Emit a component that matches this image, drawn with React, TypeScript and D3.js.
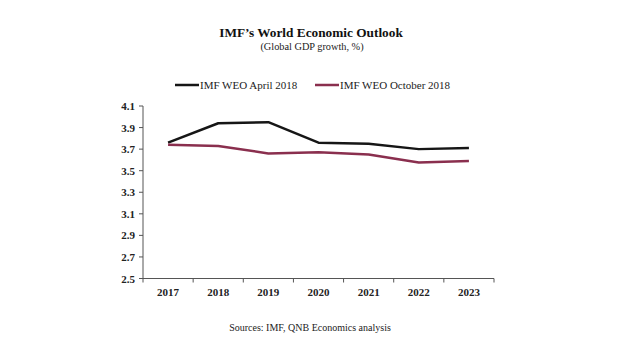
import React from "react";
import * as d3 from "d3";

const years = ["2017", "2018", "2019", "2020", "2021", "2022", "2023"];
const april2018 = [3.76, 3.94, 3.95, 3.76, 3.75, 3.70, 3.71];
const october2018 = [3.74, 3.73, 3.66, 3.67, 3.65, 3.575, 3.59];
const yTicks = [2.5, 2.7, 2.9, 3.1, 3.3, 3.5, 3.7, 3.9, 4.1];
const seriesNames = ["IMF WEO April 2018", "IMF WEO October 2018"];
const colors = ["#161616", "#8a2f4e"];

export default function App() {
  const W = 620, H = 355;
  const left = 143, right = 494, top = 106, bottom = 278.5;
  const x = d3.scaleBand().domain(years).range([left, right]);
  const y = d3.scaleLinear().domain([2.5, 4.1]).range([bottom, top]);
  const line = d3
    .line<number>()
    .x((_, i) => (x(years[i]) as number) + x.bandwidth() / 2)
    .y((d) => y(d));
  const font = "'Liberation Serif', 'Times New Roman', serif";
  const series = [april2018, october2018];
  const legendX = [175, 315];
  const xTickPos = years.map((yr) => x(yr) as number).concat([right]);
  return (
    <svg width={W} height={H} style={{ position: "absolute", left: 0, top: 0, background: "#fff" }} fontFamily={font}>
      <text x={311} y={37} textAnchor="middle" fontSize={13.3} fontWeight="bold" fill="#111">
        IMF’s World Economic Outlook
      </text>
      <text x={312} y={50} textAnchor="middle" fontSize={10.3} fill="#222">
        (Global GDP growth, %)
      </text>
      {seriesNames.map((n, i) => (
        <g key={n}>
          <line x1={legendX[i]} x2={legendX[i] + 24} y1={85} y2={85} stroke={colors[i]} strokeWidth={2.5} />
          <text x={legendX[i] + 25} y={89} fontSize={11} fill="#222">
            {n}
          </text>
        </g>
      ))}
      {/* axes */}
      <line x1={left} x2={left} y1={top} y2={bottom} stroke="#555" strokeWidth={1} />
      <line x1={left} x2={right} y1={bottom} y2={bottom} stroke="#555" strokeWidth={1} />
      {yTicks.map((t) => (
        <g key={t}>
          <line x1={left - 4} x2={left} y1={y(t)} y2={y(t)} stroke="#555" />
          <text x={left - 8} y={y(t) + 4} textAnchor="end" fontSize={11} fontWeight="bold" fill="#222">
            {t.toFixed(1)}
          </text>
        </g>
      ))}
      {xTickPos.map((p, i) => (
        <line key={i} x1={p} x2={p} y1={bottom} y2={bottom + 4} stroke="#555" />
      ))}
      {years.map((yr) => (
        <text key={yr} x={(x(yr) as number) + x.bandwidth() / 2} y={296} textAnchor="middle" fontSize={11} fontWeight="bold" fill="#222">
          {yr}
        </text>
      ))}
      {series.map((s, i) => (
        <path key={i} d={line(s) || ""} fill="none" stroke={colors[i]} strokeWidth={2.5} strokeLinejoin="round" />
      ))}
      <text x={310} y={331} textAnchor="middle" fontSize={10} fill="#222">
        Sources: IMF, QNB Economics analysis
      </text>
    </svg>
  );
}
